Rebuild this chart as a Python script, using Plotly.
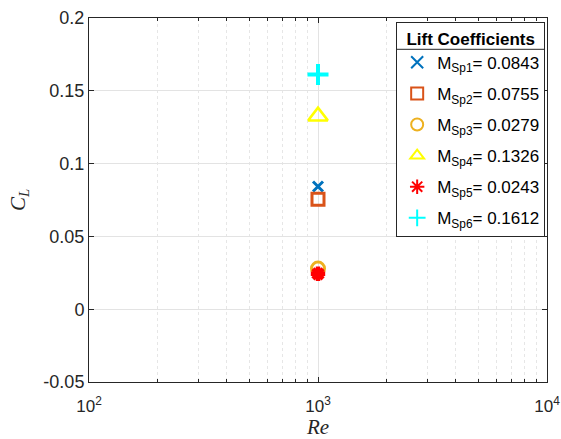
import plotly.graph_objects as go

re_vals = [1000, 1000, 1000, 1000, 1000, 1000]
cl_vals = [0.0843, 0.0755, 0.0279, 0.1326, 0.0243, 0.1612]
names = ["M<sub>Sp1</sub>= 0.0843", "M<sub>Sp2</sub>= 0.0755", "M<sub>Sp3</sub>= 0.0279",
         "M<sub>Sp4</sub>= 0.1326", "M<sub>Sp5</sub>= 0.0243", "M<sub>Sp6</sub>= 0.1612"]
symbols = ["x-thin-open", "square-open", "circle-open", "triangle-up-open", "asterisk-open", "cross-thin-open"]
colors = ["#0072BD", "#D95319", "#EDB120", "#FFFF00", "#FF0000", "#00FFFF"]
sizes = [10, 12, 13, 17, 12, 15]
widths = [3, 3, 3, 2.5, 4.5, 4]

xtick_vals = [100, 1000, 10000]
xtick_text = ["10<sup>2</sup>", "10<sup>3</sup>", "10<sup>4</sup>"]
ytick_vals = [-0.05, 0, 0.05, 0.1, 0.15, 0.2]
ytick_text = ["-0.05", "0", "0.05", "0.1", "0.15", "0.2"]
minor_x = [m * d for d in (100, 1000) for m in range(2, 10)]

fig = go.Figure()
for i in range(len(cl_vals)):
    fig.add_trace(go.Scatter(
        x=[re_vals[i]], y=[cl_vals[i]], mode="markers", name=names[i],
        legendgroup="g%d" % i,
        marker=dict(symbol=symbols[i], size=sizes[i], color=colors[i],
                    line=dict(color=colors[i], width=widths[i]))))

serif = "Liberation Serif, Times New Roman, serif"
fig.update_layout(
    width=561, height=439,
    margin=dict(l=89, r=14, t=18, b=57),
    paper_bgcolor="white", plot_bgcolor="white",
    font=dict(family="Liberation Sans, Arial, sans-serif", size=17, color="#262626"),
    showlegend=True,
    legend=dict(
        x=0.996, y=0.99, xanchor="right", yanchor="top",
        bgcolor="rgba(255,255,255,0)", bordercolor="#262626", borderwidth=1,
        font=dict(size=17, color="#000000"),
        title=dict(text="<b>Lift Coefficients</b>", font=dict(size=17, color="#000000"), side="top center"),
        itemsizing="constant", tracegroupgap=6, itemwidth=30,
    ),
    xaxis=dict(
        type="log", range=[2, 4], automargin=False,
        tickvals=xtick_vals, ticktext=xtick_text, tickfont=dict(size=17),
        ticks="inside", ticklen=5, tickcolor="#262626", ticklabelstandoff=9,
        showline=True, linecolor="#262626", linewidth=1, mirror="ticks",
        showgrid=True, gridcolor="#E3E3E3", gridwidth=1,
        minor=dict(tickvals=minor_x, ticks="inside", ticklen=3, tickcolor="#262626",
                   showgrid=True, gridcolor="#E6E6E6", griddash="dot"),
        zeroline=False,
        title=dict(text="<i>Re</i>", font=dict(family=serif, size=21), standoff=7),
    ),
    yaxis=dict(
        range=[-0.05, 0.2], automargin=False,
        tickvals=ytick_vals, ticktext=ytick_text, tickfont=dict(size=18),
        ticks="inside", ticklen=5, tickcolor="#262626",
        showline=True, linecolor="#262626", linewidth=1, mirror="ticks",
        showgrid=True, gridcolor="#E3E3E3", gridwidth=1,
        zeroline=False,
        title=dict(text="<i>C<sub>L</sub></i>", font=dict(family=serif, size=21), standoff=12),
    ),
)

# white backing for the legend box and separator under its title
fig.add_shape(type="rect", xref="paper", yref="paper", layer="above",
              x0=0.671, x1=0.995, y0=0.40, y1=0.988,
              fillcolor="white", line=dict(width=0))
fig.add_shape(type="line", xref="paper", yref="paper", layer="above",
              x0=0.671, x1=0.995, y0=0.914, y1=0.914,
              line=dict(color="#262626", width=1))

fig.write_html("out.html", config={"displayModeBar": False},
               post_script="document.body.style.margin='0';")
